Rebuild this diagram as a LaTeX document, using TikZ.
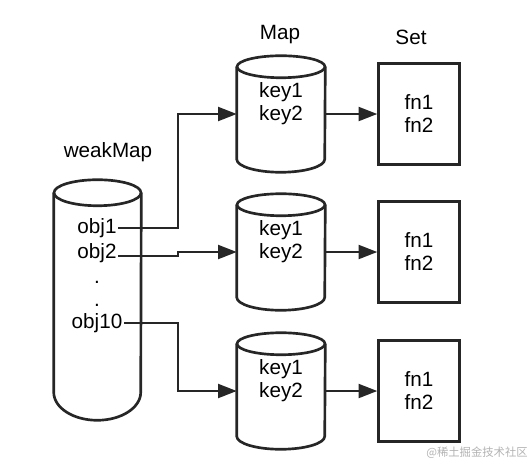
\documentclass[tikz,border=0pt]{standalone}
\usepackage{fontspec}
\setmainfont{Liberation Sans}
\newfontfamily\cjkfont{Noto Sans CJK SC}
\usetikzlibrary{arrows.meta, positioning}

\begin{document}
\begin{tikzpicture}[
    x=0.75pt, y=-0.75pt,
    >={Triangle[length=14pt, width=10.5pt]},
    node distance=39pt,
    txt/.style={
        font=\fontsize{15.5pt}{17.25pt}\selectfont,
        align=center,
        inner sep=1pt
    },
    outline/.style={draw=black!85, line width=2pt},
    store/.style={minimum width=66pt, minimum height=87pt, inner sep=0pt},
    bucket/.style={outline, txt, minimum width=60.75pt, minimum height=75.75pt},
    link/.style={->, draw=black!85, line width=1.5pt}
]
\useasboundingbox (0,0) rectangle (530,465);

% weakMap column
\node[minimum width=65.25pt, minimum height=180pt, inner sep=0pt] (weakmap) at (97.5,300) {};
\draw[outline] ([yshift=-9.75pt]weakmap.north) ellipse[x radius=32.625pt, y radius=9.75pt];
\draw[outline] ([yshift=-9.75pt]weakmap.north west) -- ([yshift=21pt]weakmap.south west)
    arc[start angle=180, end angle=360, x radius=32.625pt, y radius=21pt]
    -- ([yshift=-9.75pt]weakmap.north east);
\node[txt] (wmlabel) at (108,152) {weakMap};
\node[txt] (obj1) at (97,228) {obj1};
\node[txt] (obj2) at (97,253) {obj2};
\node[txt] (dot1) at (97,282) {.};
\node[txt] (dot2) at (97,305) {.};
\node[txt] (obj10) at (97,323) {obj10};

% Map column
\node[store] (map1) at (281,114) {};
\node[store] (map2) at (281,252) {};
\node[store] (map3) at (281,391) {};
\foreach \m in {map1, map2, map3} {
    \draw[outline] ([yshift=-8.25pt]\m.north) ellipse[x radius=33pt, y radius=8.25pt];
    \draw[outline] ([yshift=-8.25pt]\m.north west) -- ([yshift=9.75pt]\m.south west)
        arc[start angle=180, end angle=360, x radius=33pt, y radius=9.75pt]
        -- ([yshift=-8.25pt]\m.north east);
}
\node[txt] (keys1) at ([yshift=8pt]map1.center) {key1\\key2};
\node[txt] (keys2) at ([yshift=8pt]map2.center) {key1\\key2};
\node[txt] (keys3) at ([yshift=8pt]map3.center) {key1\\key2};
\node[txt] (maplabel) at (280,35) {Map};

% Set column
\node[bucket, right=of map1] (set1) {fn1\\fn2};
\node[bucket, right=of map2] (set2) {fn1\\fn2};
\node[bucket, right=of map3] (set3) {fn1\\fn2};
\node[txt] (setlabel) at (411,37) {Set};

% links
\coordinate (turn) at (178,0);
\draw[link] (obj1.east) -- (obj1.east -| turn) |- (map1.west);
\draw[link] ([yshift=-2.25pt]obj2.east) -- ([yshift=-2.25pt]obj2.east -| turn) |- (map2.west);
\draw[link] (obj10.east) -- (obj10.east -| turn) |- (map3.west);
\draw[link] (map1) -- (set1);
\draw[link] (map2) -- (set2);
\draw[link] (map3) -- (set3);

\node[font=\cjkfont\fontsize{8.5pt}{10pt}\selectfont, text=black!30, anchor=east, inner sep=0pt] (mark) at (528,453) {@稀土掘金技术社区};
\end{tikzpicture}
\end{document}
